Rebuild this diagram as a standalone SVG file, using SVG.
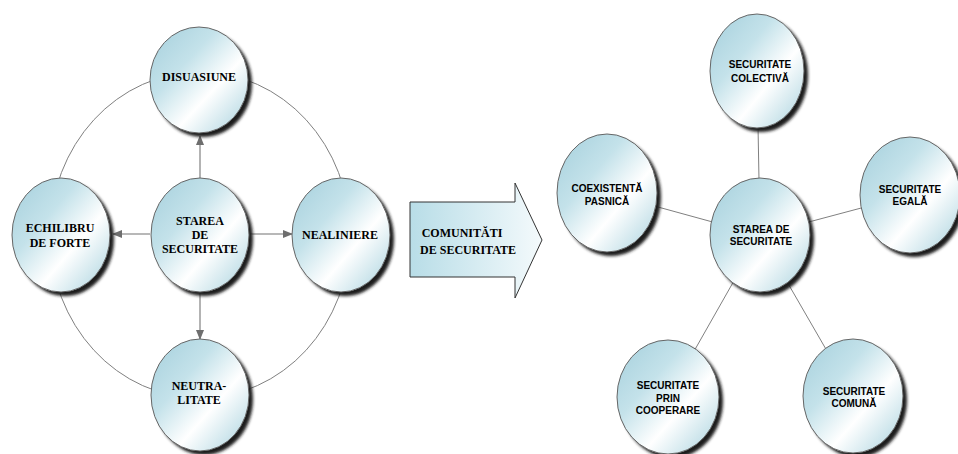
<svg xmlns="http://www.w3.org/2000/svg" width="958" height="454" viewBox="0 0 958 454">
<style>
.node{fill:url(#g);stroke:#666;stroke-width:1}
.sh{fill:#1e1e1e;filter:url(#blur)}
.ts{font-family:"Liberation Serif","Times New Roman",serif;font-weight:bold;font-size:12px;fill:#000;text-anchor:middle}
.tn{font-family:"Liberation Sans",Arial,sans-serif;font-weight:bold;font-size:10px;fill:#000;text-anchor:middle}
.c{fill:none;stroke:#808080;stroke-width:1}
.a{fill:none;stroke:#a0a0a0;stroke-width:1.6}
</style>
<defs>
<linearGradient id="g" x1="0" y1="0" x2="1" y2="1">
<stop offset="0" stop-color="#a4cfdc"/>
<stop offset="0.35" stop-color="#c4e2ea"/>
<stop offset="0.62" stop-color="#ffffff"/>
<stop offset="1" stop-color="#a6d1dd"/>
</linearGradient>
<linearGradient id="ag" x1="0" y1="0" x2="1" y2="0">
<stop offset="0" stop-color="#b8dde7"/>
<stop offset="1" stop-color="#f4fafc"/>
</linearGradient>
<filter id="blur" x="-20%" y="-20%" width="140%" height="140%"><feGaussianBlur stdDeviation="1.5"/></filter>
<marker id="m" viewBox="0 0 10 10" refX="9" refY="5" markerWidth="11" markerHeight="10" orient="auto" markerUnits="userSpaceOnUse">
<path d="M0,1 L10,5 L0,9 Z" fill="#6e6e6e"/>
</marker>
</defs>
<rect width="958" height="454" fill="#fff"/>

<g id="connectors">
<path class="c" d="M200,72 A150,163 0 0 0 50,235"/>
<path class="c" d="M200,72 A150,163 0 0 1 350,235"/>
<path class="c" d="M50,235 A150,163 0 0 0 200,398"/>
<path class="c" d="M350,235 A150,163 0 0 1 200,398"/>
<line class="a" x1="200" y1="178" x2="200" y2="136" marker-end="url(#m)"/>
<line class="a" x1="150" y1="234" x2="113" y2="234" marker-end="url(#m)"/>
<line class="a" x1="250" y1="234" x2="292" y2="234" marker-end="url(#m)"/>
<line class="a" x1="200" y1="292" x2="200" y2="339" marker-end="url(#m)"/>
<line class="c" x1="760" y1="235" x2="757" y2="71"/>
<line class="c" x1="760" y1="235" x2="607" y2="193"/>
<line class="c" x1="760" y1="235" x2="910" y2="195"/>
<line class="c" x1="760" y1="235" x2="668" y2="397"/>
<line class="c" x1="760" y1="235" x2="853" y2="396"/>
</g>

<g id="n-disuasiune">
<ellipse class="sh" cx="203" cy="84" rx="49" ry="53"/>
<ellipse class="node" cx="199" cy="80" rx="49" ry="53"/>
<text class="ts" x="199" y="81">DISUASIUNE</text>
</g>
<g id="n-echilibru">
<ellipse class="sh" cx="65" cy="239" rx="49" ry="57"/>
<ellipse class="node" cx="61" cy="235" rx="49" ry="57"/>
<text class="ts" x="60" y="232">ECHILIBRU</text>
<text class="ts" x="60" y="247">DE FORTE</text>
</g>
<g id="n-starea-left">
<ellipse class="sh" cx="204" cy="239" rx="49" ry="57"/>
<ellipse class="node" cx="200" cy="235" rx="49" ry="57"/>
<text class="ts" x="200" y="225">STAREA</text>
<text class="ts" x="200" y="239">DE</text>
<text class="ts" x="200" y="253">SECURITATE</text>
</g>
<g id="n-nealiniere">
<ellipse class="sh" cx="345" cy="239" rx="49" ry="57"/>
<ellipse class="node" cx="341" cy="235" rx="49" ry="57"/>
<text class="ts" x="340" y="239">NEALINIERE</text>
</g>
<g id="n-neutralitate">
<ellipse class="sh" cx="204" cy="399" rx="49" ry="56"/>
<ellipse class="node" cx="200" cy="395" rx="49" ry="56"/>
<text class="ts" x="199" y="390">NEUTRA-</text>
<text class="ts" x="199" y="404">LITATE</text>
</g>

<g id="n-comunitati">
<path d="M410,202 L515,202 L515,183 L542,240 L515,298 L515,277 L410,277 Z" fill="url(#ag)" stroke="#333" stroke-width="1"/>
<text class="ts" x="462" y="237">COMUNITĂTI</text>
<text class="ts" x="468" y="254">DE SECURITATE</text>
</g>

<g id="n-colectiva">
<ellipse class="sh" cx="761" cy="75" rx="47" ry="57"/>
<ellipse class="node" cx="757" cy="71" rx="47" ry="57"/>
<text class="tn" x="760" y="68">SECURITATE</text>
<text class="tn" x="760" y="82">COLECTIVĂ</text>
</g>
<g id="n-coexistenta">
<ellipse class="sh" cx="611" cy="197" rx="50" ry="59"/>
<ellipse class="node" cx="607" cy="193" rx="50" ry="59"/>
<text class="tn" x="607" y="192">COEXISTENTĂ</text>
<text class="tn" x="607" y="205">PASNICĂ</text>
</g>
<g id="n-starea-right">
<ellipse class="sh" cx="764" cy="239" rx="50" ry="57"/>
<ellipse class="node" cx="760" cy="235" rx="50" ry="57"/>
<text class="tn" x="761" y="233">STAREA DE</text>
<text class="tn" x="761" y="245">SECURITATE</text>
</g>
<g id="n-egala">
<ellipse class="sh" cx="914" cy="199" rx="50" ry="58"/>
<ellipse class="node" cx="910" cy="195" rx="50" ry="58"/>
<text class="tn" x="910" y="193">SECURITATE</text>
<text class="tn" x="910" y="205">EGALĂ</text>
</g>
<g id="n-prin">
<ellipse class="sh" cx="672" cy="401" rx="51" ry="57"/>
<ellipse class="node" cx="668" cy="397" rx="51" ry="57"/>
<text class="tn" x="668" y="389">SECURITATE</text>
<text class="tn" x="668" y="402">PRIN</text>
<text class="tn" x="668" y="414">COOPERARE</text>
</g>
<g id="n-comuna">
<ellipse class="sh" cx="857" cy="400" rx="50" ry="57"/>
<ellipse class="node" cx="853" cy="396" rx="50" ry="57"/>
<text class="tn" x="854" y="395">SECURITATE</text>
<text class="tn" x="854" y="407">COMUNĂ</text>
</g>
</svg>
